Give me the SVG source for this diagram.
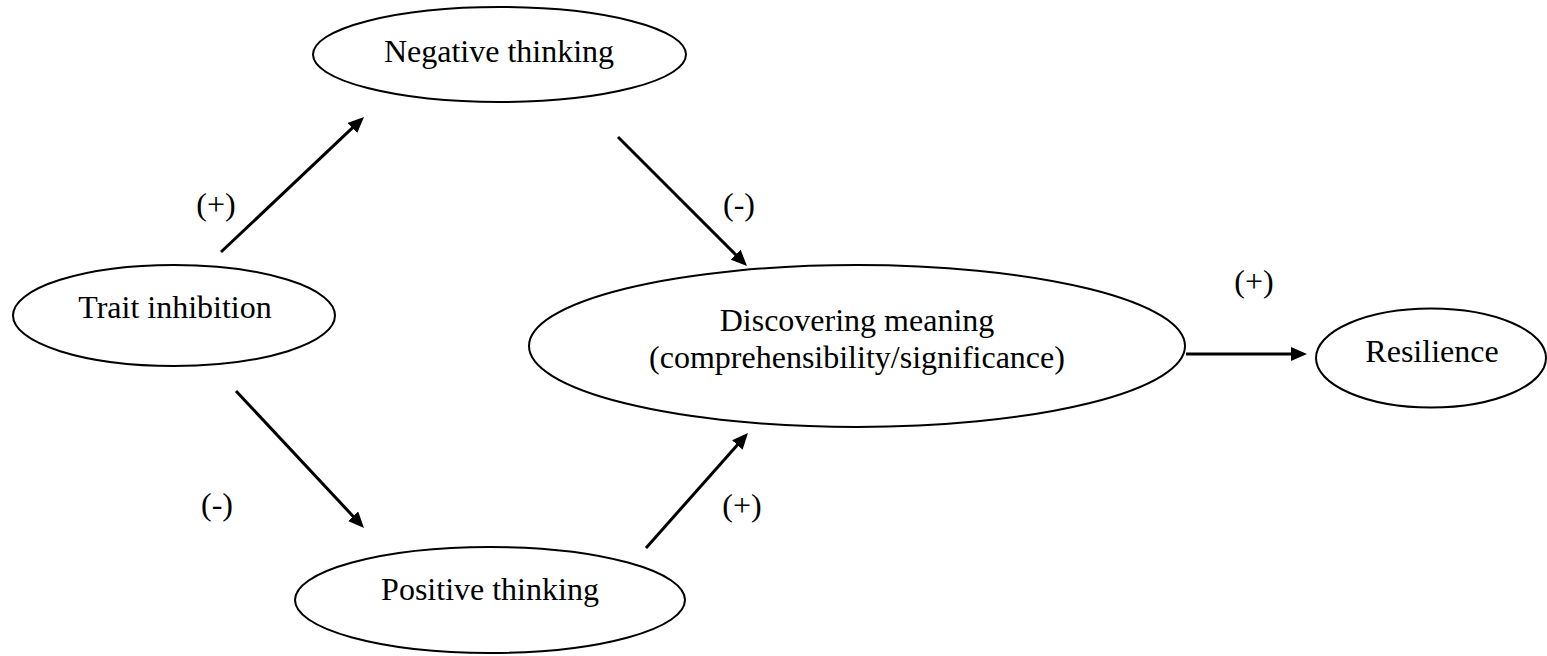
<svg xmlns="http://www.w3.org/2000/svg" width="1547" height="656" viewBox="0 0 1547 656">
<style>
.node{fill:none;stroke:#000;stroke-width:2}
.lbl{font-family:"Liberation Serif","Times New Roman",serif;font-size:32px;fill:#000;text-anchor:middle}
.edge{stroke:#000;stroke-width:3;fill:none}
</style>
<defs>
<marker id="ah" markerUnits="userSpaceOnUse" markerWidth="16" markerHeight="14" refX="4" refY="7" orient="auto">
<path d="M0,0 L16,7 L0,14 z" fill="#000"/>
</marker>
</defs>
<rect width="1547" height="656" fill="#fff"/>
<g id="negative">
<ellipse class="node" cx="499.5" cy="54.5" rx="186.5" ry="47.5"/>
<text class="lbl" x="499" y="62">Negative thinking</text>
</g>
<g id="trait">
<ellipse class="node" cx="174" cy="315.5" rx="161" ry="50.5"/>
<text class="lbl" x="175" y="318">Trait inhibition</text>
</g>
<g id="discovering">
<ellipse class="node" cx="857" cy="346" rx="328" ry="81"/>
<text class="lbl" x="857" y="331">Discovering meaning</text>
<text class="lbl" x="857" y="368">(comprehensibility/significance)</text>
</g>
<g id="resilience">
<ellipse class="node" cx="1431" cy="358" rx="115" ry="49.5"/>
<text class="lbl" x="1432" y="362">Resilience</text>
</g>
<g id="positive">
<ellipse class="node" cx="490" cy="600" rx="195" ry="53"/>
<text class="lbl" x="490" y="600">Positive thinking</text>
</g>
<g id="connectors">
<line class="edge" x1="221" y1="252" x2="355.3" y2="125.2" marker-end="url(#ah)"/>
<line class="edge" x1="618" y1="137" x2="738.5" y2="257.5" marker-end="url(#ah)"/>
<line class="edge" x1="236" y1="391" x2="355.8" y2="519.2" marker-end="url(#ah)"/>
<line class="edge" x1="646" y1="548" x2="740" y2="442" marker-end="url(#ah)"/>
<line class="edge" x1="1186" y1="354" x2="1295" y2="354" marker-end="url(#ah)"/>
</g>
<g id="edge-labels">
<text class="lbl" x="216" y="215">(+)</text>
<text class="lbl" x="739" y="215">(-)</text>
<text class="lbl" x="217" y="515">(-)</text>
<text class="lbl" x="742" y="516">(+)</text>
<text class="lbl" x="1254" y="292">(+)</text>
</g>
</svg>
